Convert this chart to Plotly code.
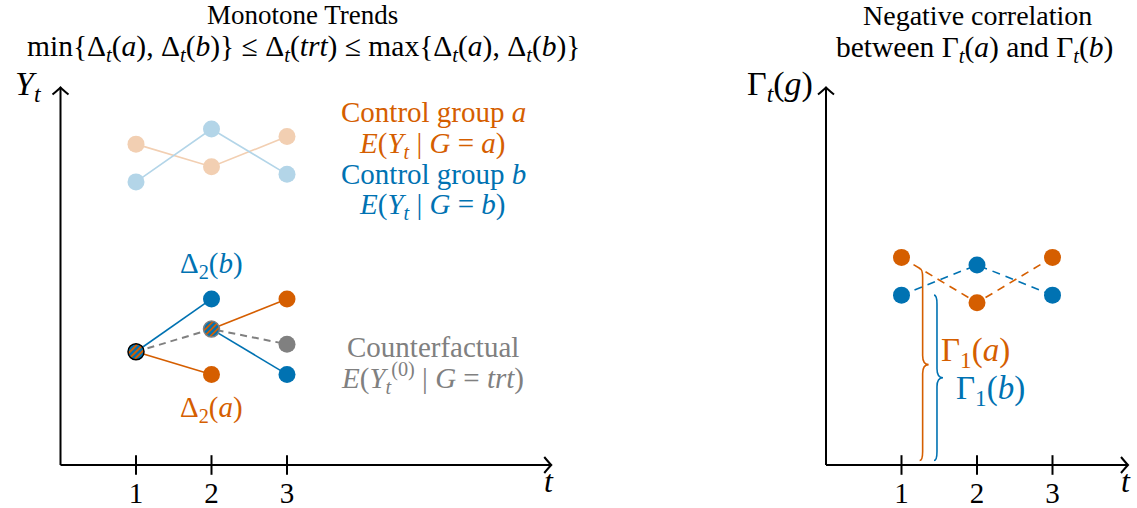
import plotly.graph_objects as go

W, H = 1137, 508
PX = 75.5          # pixels par unité (même échelle en x et en y)
X0_L, X0_R, Y0 = 60.5, 826.0, 465.0   # origines des deux repères en pixels

ORANGE = '#D55E00'
BLUE = '#0072B2'
GRAY = '#808080'
ORANGE_PALE = '#F2CFB2'
BLUE_PALE = '#B3D5E8'
FONT = "Liberation Serif, DejaVu Serif, serif"

# --- données : panneau gauche (tendances monotones) ---
t = [1, 2, 3]
ctrl_a = [4.25, 3.95, 4.35]          # E(Y_t | G = a)
ctrl_b = [3.75, 4.45, 3.85]          # E(Y_t | G = b)
trt_t = [1, 2]
trt = [1.5, 1.8]                      # groupe traité (hachuré)
cf_t = [1, 2, 3]
counterfactual = [1.5, 1.8, 1.6]      # E(Y_t^(0) | G = trt)
branch_b_t = [[1, 2], [2, 3]]
branch_b = [[1.5, 2.2], [1.8, 1.2]]
branch_a_t = [[1, 2], [2, 3]]
branch_a = [[1.5, 1.2], [1.8, 2.2]]

# --- données : panneau droit (corrélation négative) ---
gamma_a = [2.75, 2.15, 2.75]
gamma_b = [2.25, 2.65, 2.25]
brace_t = [1.28, 1.47]                # position des accolades Γ1(a), Γ1(b)
brace_lo = [0.06, 0.06]
brace_hi = [2.60, 2.25]

tick_vals = [1, 2, 3]
tick_text = ['1', '2', '3']
x_end_left, x_end_right, y_end = 6.5, 4.0, 5.0


def ux(px, x0):
    return (px - x0) / PX


def uy(py):
    return (Y0 - py) / PX


fig = go.Figure()


def line(x, y, color, width=1.6, dash=None, xa='x', ya='y'):
    fig.add_trace(go.Scatter(x=x, y=y, mode='lines', xaxis=xa, yaxis=ya,
                             line=dict(color=color, width=width, dash=dash),
                             hoverinfo='skip', showlegend=False))


def dots(x, y, color, size=17, xa='x', ya='y', symbol='circle', lw=0, lc=None):
    fig.add_trace(go.Scatter(x=x, y=y, mode='markers', xaxis=xa, yaxis=ya,
                             marker=dict(color=color, size=size, symbol=symbol,
                                         line=dict(width=lw, color=lc or color)),
                             hoverinfo='skip', showlegend=False))


# axes dessinés (origine + flèches)
for xa, ya, xend in [('x', 'y', x_end_left), ('x2', 'y2', x_end_right)]:
    line([0, xend], [0, 0], 'black', 2, xa=xa, ya=ya)
    line([0, 0], [0, y_end], 'black', 2, xa=xa, ya=ya)
    dots(tick_vals, [0] * 3, 'black', 14, xa, ya, 'line-ns', 2, 'black')

# panneau gauche : groupes de contrôle pâles
line(t, ctrl_a, ORANGE_PALE)
line(t, ctrl_b, BLUE_PALE)
dots(t, ctrl_a, ORANGE_PALE)
dots(t, ctrl_b, BLUE_PALE)

# branches et contrefactuel
line(cf_t, counterfactual, GRAY, 2, dash='7px,5px')
for xs, ys in zip(branch_b_t, branch_b):
    line(xs, ys, BLUE)
for xs, ys in zip(branch_a_t, branch_a):
    line(xs, ys, ORANGE)
dots([branch_b_t[0][1], branch_b_t[1][1]], [branch_b[0][1], branch_b[1][1]], BLUE)
dots([branch_a_t[0][1], branch_a_t[1][1]], [branch_a[0][1], branch_a[1][1]], ORANGE)
dots(cf_t[2:], counterfactual[2:], GRAY)

# points hachurés (bleu + rayures orange)
dots(trt_t, trt, BLUE, 16)
d = 3.0 / PX
for off, sz in [(-1, 9), (0, 11.5), (1, 9)]:
    dots([v - off * d for v in trt_t], [v + off * d for v in trt], ORANGE, sz,
         symbol='line-ne', lw=1.8, lc=ORANGE)
fig.add_trace(go.Scatter(x=trt_t, y=trt, mode='markers', hoverinfo='skip', showlegend=False,
                         marker=dict(size=16, symbol='circle-open', color=['black', GRAY],
                                     line=dict(width=1.5))))

# panneau droit
line(t, gamma_a, ORANGE, 1.6, '8px,6px', 'x2', 'y2')
line(t, gamma_b, BLUE, 1.6, '8px,6px', 'x2', 'y2')
dots(t, gamma_a, ORANGE, xa='x2', ya='y2')
dots(t, gamma_b, BLUE, xa='x2', ya='y2')

# accolades
shapes = []
for bx, lo, hi, col in zip(brace_t, brace_lo, brace_hi, [ORANGE, BLUE]):
    h, tip, r = 3 / PX, 6 / PX, 9 / PX
    mid = (lo + hi) / 2
    path = (f"M {bx - h},{lo} Q {bx},{lo} {bx},{lo + r} L {bx},{mid - r} "
            f"Q {bx},{mid} {bx + tip},{mid} Q {bx},{mid} {bx},{mid + r} "
            f"L {bx},{hi - r} Q {bx},{hi} {bx - h},{hi}")
    shapes.append(dict(type='path', path=path, xref='x2', yref='y2',
                       line=dict(color=col, width=1.6)))

# pointes de flèches
for xr, yr, xend in [('x', 'y', x_end_left), ('x2', 'y2', x_end_right)]:
    shapes.append(dict(type='path', xref=xr, yref=yr, xsizemode='pixel', ysizemode='pixel',
                       xanchor=xend, yanchor=0, path="M -7,8 Q -2,2 0,0 Q -2,-2 -7,-8",
                       line=dict(color='black', width=2)))
    shapes.append(dict(type='path', xref=xr, yref=yr, xsizemode='pixel', ysizemode='pixel',
                       xanchor=0, yanchor=y_end, path="M -8,-7 Q -2,-2 0,0 Q 2,-2 8,-7",
                       line=dict(color='black', width=2)))


def txt(text, px, py, x0, color='black', size=24, xr='x', yr='y'):
    return dict(text=text, x=ux(px, x0), y=uy(py), xref=xr, yref=yr, showarrow=False,
                font=dict(family=FONT, size=size, color=color))


it = lambda s: f"<i>{s}</i>"
sub_t = "<sub><i>t</i></sub>"
L, R = X0_L, X0_R
annotations = [
    txt("Monotone Trends", 302, 15, L, size=27),
    txt(f"min{{Δ{sub_t}({it('a')}), Δ{sub_t}({it('b')})}} ≤ Δ{sub_t}({it('trt')})"
        f" ≤ max{{Δ{sub_t}({it('a')}), Δ{sub_t}({it('b')})}}", 303, 48, L, size=29.5),
    txt(f"{it('Y')}{sub_t}", 28, 86, L, size=34),
    txt(f"Control group {it('a')}", 433, 112, L, ORANGE, 29),
    txt(f"{it('E')}({it('Y')}{sub_t} | {it('G')} = {it('a')})", 432, 145, L, ORANGE, 29),
    txt(f"Control group {it('b')}", 433, 174, L, BLUE, 29),
    txt(f"{it('E')}({it('Y')}{sub_t} | {it('G')} = {it('b')})", 432, 206, L, BLUE, 29),
    txt(f"Δ<sub>2</sub>({it('b')})", 211, 265, L, BLUE, 29),
    txt(f"Δ<sub>2</sub>({it('a')})", 211, 409, L, ORANGE, 29),
    txt("Counterfactual", 433, 347, L, GRAY, 29),
    txt(f"{it('E')}({it('Y')}<sub><i>t</i></sub><sup>(0)</sup> | {it('G')} = {it('trt')})",
        432, 378, L, GRAY, 29),
    txt(it('t'), 549, 481, L, size=32),
    txt("Negative correlation", 977, 15, R, size=28, xr='x2', yr='y2'),
    txt(f"between Γ{sub_t}({it('a')}) and Γ{sub_t}({it('b')})", 974, 49, R, size=29.5,
        xr='x2', yr='y2'),
    txt(f"Γ{sub_t}({it('g')})", 780, 86, R, size=34, xr='x2', yr='y2'),
    txt(f"Γ<sub>1</sub>({it('a')})", 975, 352, R, ORANGE, 33, 'x2', 'y2'),
    txt(f"Γ<sub>1</sub>({it('b')})", 990, 390, R, BLUE, 33, 'x2', 'y2'),
    txt(it('t'), 1126, 481, R, size=32, xr='x2', yr='y2'),
]

axis_common = dict(showgrid=False, zeroline=False, showline=False, ticks='',
                   tickvals=tick_vals, ticktext=tick_text, anchor='free',
                   position=(H - Y0) / H, ticklabelstandoff=8,
                   tickfont=dict(family=FONT, size=29, color='black'))
y_common = dict(visible=False, range=[uy(H), uy(0)], domain=[0, 1])

fig.update_layout(
    width=W, height=H,
    margin=dict(l=0, r=0, t=0, b=0),
    plot_bgcolor='#ffffff', paper_bgcolor='#ffffff',
    showlegend=False,
    hovermode=False,
    xaxis=dict(domain=[0, 570 / W], range=[ux(0, L), ux(570, L)], **axis_common),
    xaxis2=dict(domain=[700 / W, 1], range=[ux(700, R), ux(W, R)], **axis_common),
    yaxis=y_common,
    yaxis2=y_common,
    shapes=shapes,
    annotations=annotations,
)

# on retire la marge par défaut du <body> pour que la figure démarre en (0, 0)
fig.write_html("out.html", config={'displayModeBar': False},
               post_script="document.body.style.margin = '0px';")
